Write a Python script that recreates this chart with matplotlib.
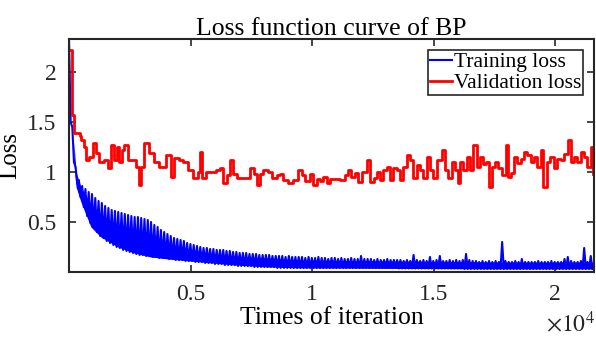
import numpy as np
import matplotlib
matplotlib.use("Agg")
import matplotlib.pyplot as plt

plt.rcParams['font.family'] = ['Liberation Serif', 'DejaVu Serif']
plt.rcParams['mathtext.fontset'] = 'stix'

# --- data ---
epoch_len = 135  # iterations between training-loss spikes

train_peak = [
    2.33, 1.45, 1.05, 0.92, 0.86, 0.83, 0.80, 0.78, 0.74, 0.71,
    0.69, 0.66, 0.64, 0.62, 0.61, 0.60, 0.59, 0.58, 0.57, 0.56,
    0.55, 0.55, 0.54, 0.53, 0.52, 0.50, 0.47, 0.45, 0.42, 0.40,
    0.38, 0.36, 0.34, 0.33, 0.32, 0.31, 0.29, 0.28, 0.27, 0.26,
    0.25, 0.24, 0.24, 0.23, 0.23, 0.22, 0.22, 0.22, 0.21, 0.21,
    0.20, 0.20, 0.19, 0.19, 0.19, 0.18, 0.18, 0.18, 0.17, 0.17,
    0.17, 0.17, 0.16, 0.16, 0.16, 0.16, 0.15, 0.16, 0.15, 0.15,
    0.15, 0.15, 0.14, 0.15, 0.14, 0.14, 0.15, 0.14, 0.14, 0.13,
    0.14, 0.14, 0.13, 0.14, 0.13, 0.13, 0.14, 0.13, 0.13, 0.16,
    0.13, 0.13, 0.13, 0.12, 0.13, 0.12, 0.12, 0.13, 0.12, 0.12,
    0.12, 0.12, 0.11, 0.12, 0.11, 0.17, 0.12, 0.11, 0.12, 0.11,
    0.15, 0.11, 0.12, 0.16, 0.11, 0.11, 0.12, 0.11, 0.12, 0.11,
    0.12, 0.18, 0.12, 0.11, 0.11, 0.10, 0.11, 0.10, 0.11, 0.10,
    0.11, 0.10, 0.30, 0.11, 0.10, 0.10, 0.11, 0.10, 0.13, 0.10,
    0.10, 0.10, 0.10, 0.11, 0.10, 0.10, 0.10, 0.11, 0.10, 0.10,
    0.10, 0.13, 0.15, 0.11, 0.10, 0.10, 0.11, 0.24, 0.10, 0.16,
]
train_trough = [
    1.50, 1.10, 0.88, 0.75, 0.65, 0.56, 0.49, 0.45, 0.40, 0.36,
    0.34, 0.31, 0.29, 0.27, 0.25, 0.24, 0.22, 0.21, 0.20, 0.19,
    0.18, 0.17, 0.17, 0.16, 0.16, 0.15, 0.15, 0.14, 0.14, 0.14,
    0.13, 0.13, 0.12, 0.12, 0.12, 0.11, 0.11, 0.11, 0.10, 0.10,
    0.10, 0.09, 0.09, 0.09, 0.08, 0.08, 0.08, 0.07, 0.07, 0.07,
    0.07, 0.06, 0.06, 0.06, 0.06, 0.06, 0.05, 0.05, 0.05, 0.05,
    0.05, 0.05, 0.05, 0.04, 0.04, 0.04, 0.04, 0.04, 0.04, 0.04,
    0.04, 0.04, 0.04, 0.04, 0.04, 0.04, 0.04, 0.04, 0.04, 0.04,
    0.04, 0.04, 0.04, 0.04, 0.04, 0.04, 0.04, 0.04, 0.04, 0.04,
    0.04, 0.04, 0.04, 0.04, 0.04, 0.04, 0.04, 0.04, 0.04, 0.04,
    0.035, 0.035, 0.035, 0.035, 0.035, 0.035, 0.035, 0.035, 0.035, 0.035,
    0.035, 0.035, 0.035, 0.035, 0.035, 0.035, 0.035, 0.035, 0.035, 0.035,
    0.03, 0.03, 0.03, 0.03, 0.03, 0.03, 0.03, 0.03, 0.03, 0.03,
    0.03, 0.03, 0.03, 0.03, 0.03, 0.03, 0.03, 0.03, 0.03, 0.03,
    0.03, 0.03, 0.03, 0.03, 0.03, 0.03, 0.03, 0.03, 0.03, 0.03,
    0.03, 0.03, 0.03, 0.03, 0.03, 0.03, 0.03, 0.03, 0.03, 0.03,
]

# solid lower part of the training band
band_iter = [200, 290, 490, 900, 1310, 2010, 2670, 3360, 4060, 5410,
             6770, 8160, 9510, 13610, 17710, 21600]
band_lo = [1.10, 0.85, 0.70, 0.45, 0.35, 0.25, 0.19, 0.15, 0.13, 0.10,
           0.07, 0.05, 0.04, 0.035, 0.03, 0.03]
band_hi = [1.30, 1.00, 0.85, 0.68, 0.58, 0.46, 0.40, 0.36, 0.28, 0.20,
           0.16, 0.14, 0.12, 0.11, 0.10, 0.10]

val_iter = [
    80, 120, 200, 450, 490, 615, 697, 820, 984, 1107,
    1230, 1435, 1599, 1722, 1845, 1968, 2050, 2173, 2255, 2419,
    2583, 2747, 2870, 2952, 3075, 3280, 3485, 3690, 3977, 4182,
    4305, 4510, 4674, 4879, 5084, 5289, 5371, 5453, 5617, 5822,
    6027, 6232, 6355, 6519, 6642, 6765, 6929, 7134, 7339, 7462,
    7626, 7749, 7872, 7995, 8200, 8364, 8569, 8692, 8815, 9020,
    9225, 9430, 9594, 9717, 9922, 10045, 10209, 10332, 10455, 10619,
    10742, 10947, 11152, 11357, 11480, 11603, 11767, 11890, 12054, 12259,
    12382, 12546, 12669, 12792, 12915, 13079, 13202, 13325, 13489, 13612,
    13735, 13899, 14022, 14145, 14309, 14432, 14555, 14719, 14842, 14965,
    15129, 15334, 15457, 15580, 15744, 15867, 15990, 16072, 16195, 16359,
    16482, 16605, 16769, 16892, 17015, 17138, 17261, 17384, 17507, 17630,
    17794, 17958, 18040, 18204, 18327, 18450, 18614, 18737, 18860, 19024,
    19147, 19270, 19434, 19516, 19680, 19803, 19967, 20090, 20254, 20377,
    20541, 20664, 20787, 20910, 21074, 21197, 21320, 21484, 21566,
]
val_loss = [
    2.22, 1.57, 1.39, 1.36, 1.32, 1.25, 1.12, 1.15, 1.29, 1.19,
    1.10, 1.12, 1.04, 1.27, 1.12, 1.25, 1.10, 1.22, 1.27, 1.12,
    1.12, 1.05, 0.87, 1.05, 1.29, 1.19, 1.10, 1.05, 1.17, 0.95,
    1.14, 1.12, 1.10, 1.02, 0.94, 1.00, 1.20, 0.94, 1.00, 1.00,
    1.02, 1.04, 0.89, 0.97, 1.12, 0.98, 0.94, 0.94, 0.94, 1.04,
    0.98, 0.87, 0.98, 1.02, 1.00, 0.94, 0.97, 0.98, 0.92, 0.89,
    0.92, 1.02, 0.97, 0.91, 0.98, 0.87, 0.93, 0.91, 0.95, 0.89,
    0.93, 0.93, 0.92, 0.97, 1.02, 0.95, 0.99, 0.90, 1.00, 1.12,
    0.90, 0.94, 1.00, 0.92, 1.02, 1.05, 0.92, 1.04, 1.02, 0.92,
    1.05, 1.17, 1.12, 0.94, 1.07, 1.02, 0.94, 1.15, 1.02, 0.94,
    1.12, 1.22, 1.02, 0.94, 1.10, 1.02, 0.89, 1.10, 1.02, 1.15,
    1.02, 1.27, 1.05, 1.15, 1.08, 1.10, 0.85, 1.05, 1.10, 1.04,
    0.97, 1.27, 0.95, 0.99, 1.15, 1.09, 1.13, 1.20, 1.17, 1.10,
    1.15, 1.05, 1.22, 0.85, 1.10, 1.15, 1.04, 1.13, 1.12, 1.18,
    1.32, 1.10, 1.15, 1.10, 1.20, 1.15, 1.05, 1.25, 0.98,
]

x_ticks = [5000, 10000, 15000, 20000]
x_tick_labels = ['0.5', '1', '1.5', '2']
y_ticks = [0.5, 1, 1.5, 2]
y_tick_labels = ['0.5', '1', '1.5', '2']

# --- build the zigzag training curve (peak at epoch start, trough mid-epoch) ---
n = len(train_peak)
starts = np.arange(n) * epoch_len
tx = np.empty(2 * n)
ty = np.empty(2 * n)
tx[0::2] = starts
tx[1::2] = starts + epoch_len / 2
ty[0::2] = train_peak
ty[1::2] = train_trough

fig = plt.figure(figsize=(5.96, 3.37), dpi=100)
ax = fig.add_axes([0.1158, 0.193, 0.8809, 0.691])

ax.fill_between(band_iter, band_lo, band_hi, color='#0000ff', lw=0)
ax.plot(tx, ty, color='#0000ff', lw=1.5, label='Training loss')
ax.plot(val_iter, val_loss, color='#ff0000', lw=2.0, drawstyle='steps-post',
        label='Validation loss')

ax.set_xlim(0, 21600)
ax.set_ylim(0.0, 2.33)
ax.set_xticks(x_ticks)
ax.set_xticklabels(x_tick_labels)
ax.set_yticks(y_ticks)
ax.set_yticklabels(y_tick_labels)
ax.tick_params(direction='in', length=5, width=1.2, labelsize=17, pad=9,
               top=True, right=True, colors='#262626', labelcolor='#262626')
for s in ax.spines.values():
    s.set_linewidth(1.5)
    s.set_color('#262626')

ax.set_title('Loss function curve of BP', fontsize=18.5, pad=3, color='#000000')
ax.set_xlabel('Times of iteration', fontsize=18.5, labelpad=1)
ax.set_ylabel('Loss', fontsize=18, labelpad=4)
fig.text(0.998, 0.0, r'$\times10^{4}$', ha='right', va='bottom',
         fontsize=17, color='#262626')

leg = ax.legend(loc='upper right', fontsize=15.5, handlelength=1.0,
                handletextpad=0.1, borderpad=0.1, labelspacing=0.05,
                borderaxespad=0.5, fancybox=False, framealpha=1)
leg.get_frame().set_edgecolor('#262626')
leg.get_frame().set_linewidth(1.2)

fig.savefig('out.png', dpi=100)
